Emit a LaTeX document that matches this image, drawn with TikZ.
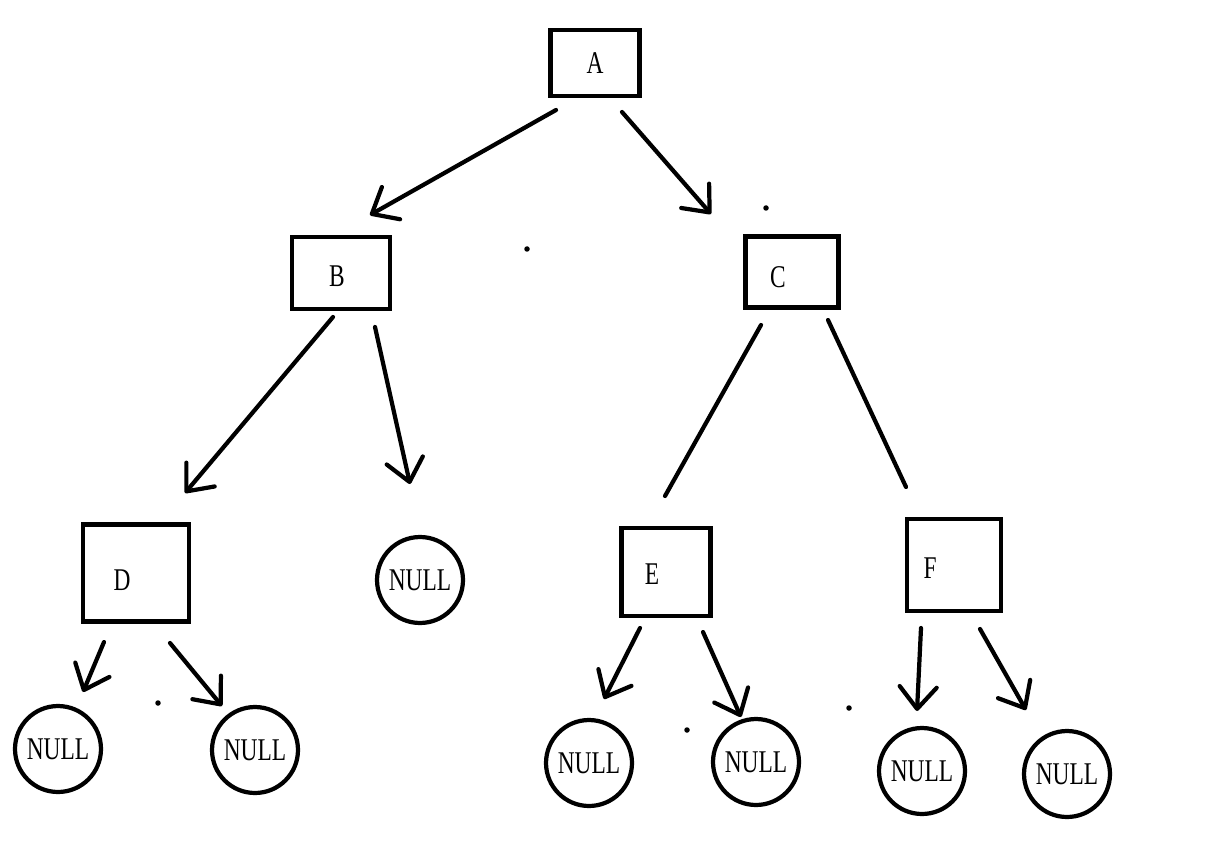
\documentclass[tikz,border=0pt]{standalone}
\usepackage{fontspec}
\setmainfont{Liberation Serif}[FakeStretch=0.74]
\usetikzlibrary{arrows.meta}

\begin{document}
\begin{tikzpicture}[
    x=0.02cm, y=-0.02cm,
    box/.style={rectangle,draw,line width=2.7pt,inner sep=0pt},
    nullnode/.style={circle,draw,line width=2.4pt,minimum size=1.72cm,inner sep=0pt,
        font=\fontsize{18pt}{21pt}\selectfont},
    lbl/.style={font=\fontsize{18pt}{21pt}\selectfont},
    arr/.style={line width=2.4pt,line cap=round,-{Straight Barb[length=0.44cm,width=0.74cm,round]}},
    edge/.style={line width=2.4pt,line cap=round},
    dot/.style={circle,fill=black,inner sep=0pt,minimum size=0.11cm}
]
    \useasboundingbox (0,0) rectangle (1219,861);
    % boxes
    \node[box,minimum width=1.78cm,minimum height=1.32cm,label={[lbl]center:A}] (A) at (595,63) {};
    \node[box,minimum width=1.96cm,minimum height=1.44cm,label={[lbl,xshift=-0.08cm,yshift=-0.06cm]center:B}] (B) at (341,273) {};
    \node[box,minimum width=1.86cm,minimum height=1.42cm,label={[lbl,xshift=-0.28cm,yshift=-0.1cm]center:C}] (C) at (792,272) {};
    \node[box,minimum width=2.12cm,minimum height=1.94cm,label={[lbl,xshift=-0.28cm,yshift=-0.14cm]center:D}] (D) at (136,573) {};
    \node[box,minimum width=1.78cm,minimum height=1.76cm,label={[lbl,xshift=-0.28cm,yshift=-0.04cm]center:E}] (E) at (666,572) {};
    \node[box,minimum width=1.88cm,minimum height=1.84cm,label={[lbl,xshift=-0.48cm,yshift=-0.06cm]center:F}] (F) at (954,565) {};
    % NULL leaves
    \node[nullnode] (nb) at (420,580) {NULL};
    \node[nullnode] (nd1) at (58,749) {NULL};
    \node[nullnode] (nd2) at (255,750) {NULL};
    \node[nullnode] (ne1) at (589,763) {NULL};
    \node[nullnode] (ne2) at (756,762) {NULL};
    \node[nullnode] (nf1) at (922,771) {NULL};
    \node[nullnode] (nf2) at (1067,774) {NULL};
    % stray dots
    \node[dot] (p1) at (766,208) {};
    \node[dot] (p2) at (527,249) {};
    \node[dot] (p3) at (158,703) {};
    \node[dot] (p4) at (687,730) {};
    \node[dot] (p5) at (849,708) {};
    % line ends
    \coordinate (ab1) at (556,110);  \coordinate (ab2) at (370,215);
    \coordinate (ac1) at (622,112);  \coordinate (ac2) at (711,214);
    \coordinate (bd1) at (333,317);  \coordinate (bd2) at (185,493);
    \coordinate (bn1) at (375,327);  \coordinate (bn2) at (410,484);
    \coordinate (ce1) at (761,325);  \coordinate (ce2) at (665,496);
    \coordinate (cf1) at (828,320);  \coordinate (cf2) at (906,487);
    \coordinate (dl1) at (104,642);  \coordinate (dl2) at (83,692);
    \coordinate (dr1) at (170,643);  \coordinate (dr2) at (222,706);
    \coordinate (el1) at (640,628);  \coordinate (el2) at (604,699);
    \coordinate (er1) at (703,632);  \coordinate (er2) at (741,717);
    \coordinate (fl1) at (921,628);  \coordinate (fl2) at (917,711);
    \coordinate (fr1) at (980,629);  \coordinate (fr2) at (1026,710);
    \draw[arr] (ab1) -- (ab2);
    \draw[arr] (ac1) -- (ac2);
    \draw[arr] (bd1) -- (bd2);
    \draw[arr] (bn1) -- (bn2);
    \draw[edge] (ce1) -- (ce2);
    \draw[edge] (cf1) -- (cf2);
    \draw[arr] (dl1) -- (dl2);
    \draw[arr] (dr1) -- (dr2);
    \draw[arr] (el1) -- (el2);
    \draw[arr] (er1) -- (er2);
    \draw[arr] (fl1) -- (fl2);
    \draw[arr] (fr1) -- (fr2);
\end{tikzpicture}
\end{document}
